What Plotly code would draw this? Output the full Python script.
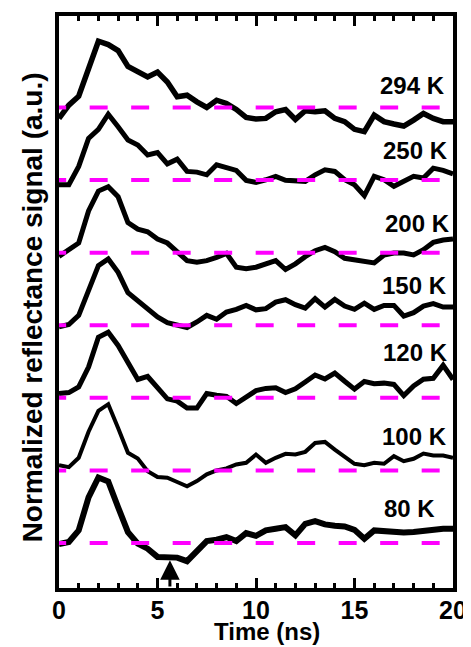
import plotly.graph_objects as go

# time axis (ns)
time_ns = [0, 0.5, 1, 1.5, 2, 2.5, 3, 3.5, 4, 4.5, 5, 5.5, 6, 6.5, 7, 7.5, 8, 8.5, 9, 9.5, 10,
           10.5, 11, 11.5, 12, 12.5, 13, 13.5, 14, 14.5, 15, 15.5, 16, 16.5, 17, 17.5, 18, 18.5, 19, 19.5, 20]

# temperature labels (top to bottom)
temps = ["294 K", "250 K", "200 K", "150 K", "120 K", "100 K", "80 K"]

# signals (a.u., relative to each trace's own baseline)
s294 = [-11, 2.3, 11.3, 39, 66.7, 63.3, 57.3, 41.3, 36.7, 30.7, 35.7, 25.7, 10.7, 12.3, 5.7, 0, 7.3, 4, -2, -10, -11.7,
        -11, -4.3, -2, -12, -3.3, -4.3, -3.3, -11, -14.3, -22, -24.3, -7.7, -14.3, -16.7, -18.7, -12.7, -6, -11, -14.3, -14.3]
s250 = [-4.7, -4.7, 13.7, 42, 51, 66.3, 53.7, 40.3, 35.3, 25.3, 27.7, 16.3, 21, 8.7, 8, 5.3, 15.3, 13, 9.7, -0.3, -2.3,
        0.3, 3.7, -0.3, -1.3, -1.3, 5.3, 10.3, 8.7, 0.3, -4.7, -15.7, 3.7, 0.3, -6.3, -1.3, 3.7, 2, 12, 9.7, 6.3]
s200 = [-3.7, 3, 9.7, 42, 62, 66.3, 56.3, 30.3, 23.7, 21, 13.7, 9.7, 0.3, -8, -9.7, -8, -4.7, -0.7, -14.7, -16.3, -14.7,
        -11.3, -8, -17, -11.3, -4, 2, 5.3, 1, -5.7, -7, -9, -10.3, -2.3, -0.3, -0.3, -2.3, 3, 10.3, 12.7, 13.7]
s150 = [-1.7, 0.7, 10, 35, 60, 66.7, 53.3, 32.7, 25, 16, 8.3, 2.7, 0.7, -2.3, 3.3, 10, 6, 13.3, 16, 20, 15.5,
        16.7, 23.3, 25.7, 20.7, 17.3, 26.7, 18.3, 26, 19.3, 16, 22.3, 16, 20, 20, 9.3, 12.7, 19.3, 21.7, 18.3, 18.3]
s120 = [4.3, 5.3, 11, 31, 61, 66, 52.7, 34.3, 18.5, 21.5, 11, -1, -3.3, -10.3, -10.3, 4.3, 2.7, 1.5, -5.7, 1, 7.2,
        9.5, 10.2, 5.3, 9, 16, 23, 19, 25, 16.7, 8.8, 16.5, 14.3, 14.8, 13.5, 2.3, 12, 18.7, 19.7, 32.7, 18.5]
s100 = [5.3, 3.3, 12.7, 39, 60, 66.7, 42.7, 17.7, 12, -0.7, -6.7, -7.3, -11.7, -16, -10.7, -4, 0, 2, 6, 7.7, 16,
        7.7, 12.7, 16.7, 16, 18.7, 27.7, 28.7, 21, 13.3, 6.7, 5.3, 7.7, 6.7, 14.3, 9.3, 11.7, 17, 15, 15, 12.7]
s80 = [-1, 1, 12.7, 46, 66, 62, 36, 11, -0.7, -5.7, -14, -14.7, -14.7, -18.3, -9, 2, 3.3, 6, 2, 10, 7.2,
       12.7, 14.3, 16, 7.7, 19.3, 22, 18.7, 17.3, 16.7, 13.3, 4.3, 12.7, 11.7, 10.7, 10.7, 11, 12, 14.3, 14.3, 14.3]

signals = [s294, s250, s200, s150, s120, s100, s80]
offset_step = 73.1  # vertical separation between stacked traces (a.u.)
arrow_time = 5.63   # ns

# ---- styling ----
widths = [5.5, 5, 5, 5, 5, 4, 6]
label_left = [16.2, 16.35, 16.45, 16.3, 16.35, 16.3, 16.4]
label_up = [21.7, 29.3, 29.6, 40, 46, 34.3, 34.4]
FONT = "Arial, 'Liberation Sans', sans-serif"

n = len(signals)
offsets = [(n - 1 - i) * offset_step for i in range(n)]

fig = go.Figure()
for sig, off, w in zip(signals, offsets, widths):
    fig.add_trace(go.Scatter(x=time_ns, y=[v + off for v in sig], mode="lines",
                             line=dict(color="black", width=w), showlegend=False,
                             hoverinfo="skip"))
for off in offsets:
    fig.add_trace(go.Scatter(x=[-0.55, 20.6], y=[off, off], mode="lines",
                             line=dict(color="#FF00FF", width=4, dash="18px,23.5px"),
                             showlegend=False, hoverinfo="skip"))

annotations = []
for name, off, lx, up in zip(temps, offsets, label_left, label_up):
    annotations.append(dict(x=lx, y=off + up, xref="x", yref="y", text=name,
                            showarrow=False, xanchor="left", yanchor="middle",
                            font=dict(family=FONT, size=24, color="black", weight="bold")))
# arrow
annotations.append(dict(x=arrow_time, y=-17.3, xref="x", yref="y",
                        ax=arrow_time, ay=-45.3, axref="x", ayref="y",
                        showarrow=True, arrowhead=2, arrowsize=1.3, arrowwidth=3,
                        arrowcolor="black", text=""))
annotations.append(dict(x=0.528, y=-0.076, xref="paper", yref="paper", text="Time (ns)",
                        showarrow=False, xanchor="center", yanchor="middle",
                        font=dict(family=FONT, size=24, color="black", weight="bold")))
annotations.append(dict(x=-0.068, y=0.491, xref="paper", yref="paper",
                        text="Normalized reflectance signal (a.u.)", textangle=-90,
                        showarrow=False, xanchor="center", yanchor="middle",
                        font=dict(family=FONT, size=28, color="black", weight="bold")))

# page body adds an 8px margin, so the figure is sized/offset to compensate
fig.update_layout(
    width=463, height=639,
    margin=dict(l=51, r=18, t=4, b=59),
    plot_bgcolor="white", paper_bgcolor="white",
    annotations=annotations,
    xaxis=dict(range=[0, 20], tickmode="array", tickvals=[0, 5, 10, 15, 20],
               ticktext=["0", "5", "10", "15", "20"],
               ticks="inside", ticklen=10, tickwidth=3, tickcolor="black",
               ticklabelstandoff=-3,
               minor=dict(dtick=1, ticks="inside", ticklen=5, tickwidth=3, tickcolor="black"),
               showline=True, linewidth=4, linecolor="black", mirror="ticks",
               showgrid=False, zeroline=False,
               tickfont=dict(family=FONT, size=25, color="black", weight="bold")),
    yaxis=dict(range=[-45.3, 530.7], showticklabels=False, ticks="",
               showline=True, linewidth=4, linecolor="black", mirror=True,
               showgrid=False, zeroline=False),
)

fig.write_html("out.html")
